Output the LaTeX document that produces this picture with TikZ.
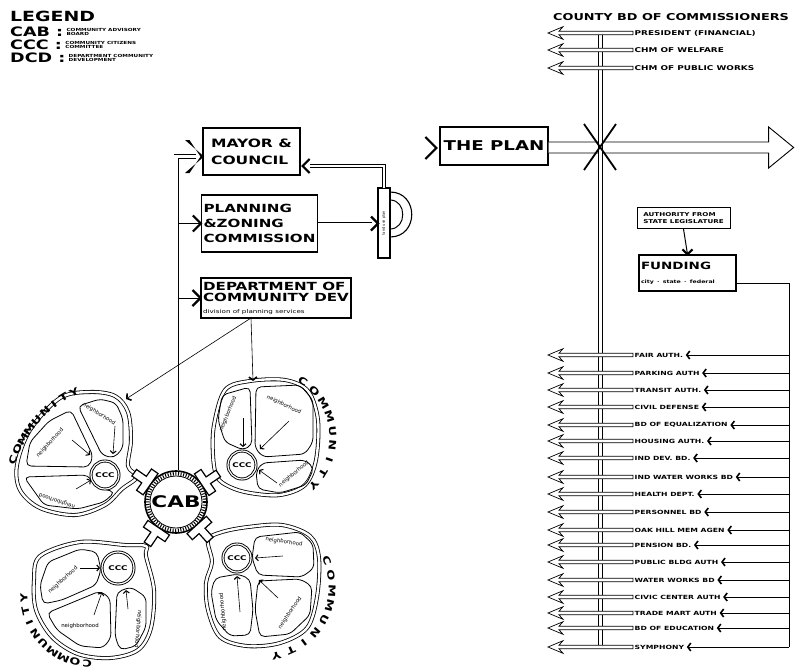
\documentclass[tikz,border=0pt]{standalone}
\usepackage{fontspec}
\newfontfamily\hand[FakeStretch=1.35]{DejaVu Sans}
\newfontfamily\plain{DejaVu Sans}
\usetikzlibrary{arrows.meta}

\newcommand\fsz[2]{\fontsize{#1}{#2}\selectfont}

\tikzset{
  bx/.style={draw, line width=1.3pt, inner sep=2pt, align=left},
  lbl/.style={font=\hand\bfseries\fsz{5.7}{6}, anchor=west, inner sep=0.5pt},
  clbl/.style={font=\hand\bfseries\fsz{6.6}{7}, anchor=west, inner sep=0.5pt},
  legk/.style={font=\hand\bfseries\fsz{13}{13}, anchor=west, inner sep=0pt},
  legv/.style={font=\hand\bfseries\fsz{4.2}{4.6}, anchor=west, inner sep=0pt, align=left},
  nbt/.style={font=\plain\fsz{5.4}{6}, inner sep=0pt},
  comm/.style={font=\hand\bfseries\fsz{9.5}{10}, inner sep=0pt},
  band/.style={draw, fill=white, line width=0.7pt},
  dbl/.style={double, double distance=3.2pt, line width=0.9pt},
  chv/.style={line width=2.2pt, line join=miter},
  barb/.style={-{Straight Barb[length=3pt,width=8pt,line width=1.6pt]}, line width=0.7pt},
  narr/.style={-{Straight Barb[length=2.5pt,width=6pt,line width=1.1pt]}, line width=0.6pt},
  nb/.style={line width=0.8pt, rounded corners=5pt},
  outer/.style={double, double distance=2.4pt, line width=0.8pt},
  ccc/.style={circle, draw, double, double distance=1.2pt, line width=0.9pt, minimum size=28pt, inner sep=0pt, font=\hand\bfseries\fsz{6.5}{7}, fill=white},
  tee/.style={draw, fill=white, line width=1.2pt},
}

\newcommand\chev[3]{\draw[chv] ([shift={(-#3,-#3)}]#1) -- (#1) -- ([shift={(-#3,#3)}]#1);}
\newcommand\chevL[3]{\draw[chv] ([shift={(#3,-#3)}]#1) -- (#1) -- ([shift={(#3,#3)}]#1);}
\newcommand\chevD[3]{\draw[chv] ([shift={(-#3,-#3)}]#1) -- (#1) -- ([shift={(#3,-#3)}]#1);}
\newcommand\teeshape[2]{\draw[tee, shift={#1}, rotate=#2] (0,-13) -- (0,13) -- (-8,13) -- (-8,4) -- (-20,4) -- (-20,-4) -- (-8,-4) -- (-8,-13) -- cycle;}
\newcommand\band[1]{\draw[band] ([shift={(-1,-1.8)}]#1.west) -- ++(-74,0) -- ++(4,-4.5) -- ++(-15,6.3) -- ++(15,6.3) -- ++(-4,-4.5) -- ++(74,0) -- cycle;}
\newcommand\arcword[5]{%
  \foreach \lett [count=\i from 0] in {C,O,M,M,U,N,I,T,Y}{%
    \pgfmathsetmacro\angA{#4+\i*#5}%
    \node[comm, rotate=\angA-90] at ({#1+#3*cos(\angA)},{#2-#3*sin(\angA)}) {\lett};
  }}

\begin{document}
\begin{tikzpicture}[x=1pt,y=-1pt]
\useasboundingbox (0,0) rectangle (795,670);

% ---------------- boxes
\node[bx, minimum width=97pt, minimum height=47pt, font=\hand\bfseries\fsz{11.5}{17}] (mayor) at (251.5,151.5) {MAYOR \&\\COUNCIL};
\node[bx, minimum width=108pt, minimum height=38pt, font=\hand\bfseries\fsz{13.5}{14}] (theplan) at (494,146) {THE PLAN};
\node[bx, minimum width=115pt, minimum height=57pt, font=\hand\bfseries\fsz{11.2}{15}] (pz) at (259.5,223.5) {PLANNING\\\&ZONING\\COMMISSION};
\node[bx, minimum width=148pt, minimum height=40pt, font=\hand\bfseries\fsz{11.2}{11.5}] (dept) at (276,298) {DEPARTMENT OF\\COMMUNITY DEV\\{\hand\mdseries\fsz{5.3}{7}division of planning services}};
\node[bx, line width=1pt, minimum width=93pt, minimum height=21pt, font=\hand\bfseries\fsz{5.3}{7}] (auth) at (683.5,218) {AUTHORITY FROM\\STATE LEGISLATURE};
\node[bx, text width=93pt, minimum height=36pt, font=\hand\bfseries\fsz{10}{14}] (fund) at (687.5,273) {FUNDING\\{\hand\bfseries\fsz{4.6}{6}city · state · federal}};

% ---------------- CAB and spine
\node[circle, draw, line width=1.6pt, minimum size=62pt, inner sep=0, fill=white] (cab) at (176,502) {};
\coordinate (spinetop) at (176,156.5);
\coordinate (mayinline) at (196,156.5);
\draw[line width=0.9pt] (cab.north |- pz.west) -- (pz.west);
\chev{pz.west}{0}{8}
\draw[line width=0.9pt] (cab.north |- dept.west) -- (dept.west);
\chev{dept.west}{0}{8}
\draw[dbl] (cab.north) -- (spinetop) -- (mayinline);
\fill[black] (185,140) -- (204,156.5) -- (185,173) -- (189.5,173) -- (200.5,156.5) -- (189.5,140) -- cycle;
\draw[line width=3.5pt, dash pattern=on 1pt off 1.6pt] (cab.center) circle[radius=28.3];
\draw[line width=0.8pt] (cab.center) circle[radius=26];
\node[font=\hand\bfseries\fsz{16}{16}, inner sep=0] (cabt) at (cab.center) {CAB};

% ---------------- P (land use plan)
\draw[line width=1.1pt] (378,188) rectangle (390,258);
\draw[line width=1.1pt] (390,192) .. controls (419,192) and (419,237) .. (390,237);
\draw[line width=1pt] (390,200) .. controls (407,200) and (407,229) .. (390,229);
\node[rotate=90, font=\plain\fsz{3.6}{4}, inner sep=0] (lup) at (384,223) {land use plan};
\coordinate (ptop) at (384,188);
\coordinate (pw) at (378,223.5);

% connector anchor points
\coordinate (meast) at ([shift={(2,14.5)}]mayor.east);
\coordinate (meline) at ([shift={(9,14.5)}]mayor.east);
\coordinate (pwest) at ([shift={(-3,2)}]theplan.west);
\coordinate (pwline) at ([shift={(-10,2)}]theplan.west);
\coordinate (mout) at ([shift={(0,-3.5)}]mayor.east);

% planning -> P
\draw[double, double distance=2pt, line width=0.6pt] (pz.east) -- ([xshift=-6pt]pw);
\chev{pw}{0}{7}
% P -> mayor (return)
\draw[double, double distance=2.5pt, line width=0.8pt] (ptop) |- (meline);
\chevL{meast}{180}{7}
% mayor -> the plan
\draw[double, double distance=1.6pt, line width=0.5pt] (mout) -- (pwline);
\chev{pwest}{0}{11}

% ---------------- the plan big arrow
\draw[fill=white, line width=0.9pt] ([shift={(0,-4)}]theplan.east) -- ++(220,0) -- ++(0,-15) -- ++(25,20.5) -- ++(-25,20.5) -- ++(0,-15) -- ++(-220,0);

% ---------------- county spine
\coordinate (st) at (600.5,33);
\coordinate (sb) at (600.5,647);
\draw[dbl] (st) -- (sb);
\draw[line width=1.8pt] (584,124) -- (616,170) (616,124) -- (584,170);

% county rows
\foreach \y/\t [count=\i] in {33/PRESIDENT (FINANCIAL), 50/CHM OF WELFARE, 68/CHM OF PUBLIC WORKS}{
  \node[clbl] (c\i) at (634,\y) {\t};
  \band{c\i}
}

% authority -> funding
\draw[line width=1pt] (auth.south) -- (fund.north);
\chevD{fund.north}{-90}{5}
\coordinate (rl) at (789,283);
\draw[line width=0.9pt] ([shift={(0,10)}]fund.east) -- (rl);

% agency rows
\foreach \y/\t [count=\i] in {355/FAIR AUTH., 373/PARKING AUTH, 390/TRANSIT AUTH., 407/CIVIL DEFENSE, 425/BD OF EQUALIZATION, 441/HOUSING AUTH., 458/IND DEV. BD., 477/IND WATER WORKS BD, 494/HEALTH DEPT., 512/PERSONNEL BD, 530/OAK HILL MEM AGEN, 545/PENSION BD., 562/PUBLIC BLDG AUTH, 580/WATER WORKS BD, 597/CIVIC CENTER AUTH, 613/TRADE MART AUTH, 628/BD OF EDUCATION, 647/SYMPHONY}{
  \node[lbl] (r\i) at (634,\y) {\t};
  \band{r\i}
  \draw[barb] (rl |- r\i.east) -- ([shift={(2,0)}]r\i.east);
}
\draw[line width=0.9pt] (rl) -- (rl |- r18.east);

% ---------------- communities
% community 1 (upper left)
\draw[outer] plot[smooth cycle, tension=0.55] coordinates {(60,398) (90,392) (115,396) (128,412) (131,440) (128,466) (137,477) (122,489) (105,505) (75,515) (40,508) (20,490) (17,465) (30,430)};
\draw[nb] (78,406) -- (100,399) -- (116,403) -- (123,419) -- (123,448) -- (114,458) -- (102,455) -- cycle;
\draw[nb] (71,410) -- (93,456) -- (89,467) -- (26,466) -- (30,442) -- (49,421) -- cycle;
\draw[nb] (24,477) -- (88,475) -- (96,487) -- (115,492) -- (104,502) -- (78,509) -- (44,505) -- cycle;
\node[ccc] (ccc1) at (105,475) {CCC};
\node[nbt, rotate=-32] (n11) at (99,414) {neighborhood};
\draw[narr] (115,426) -- (113,454);
\node[nbt, rotate=48] (n12) at (50,443) {neighborhood};
\draw[narr] (72,440) -- (90,455);
\node[nbt, rotate=162] (n13) at (57,501) {neighborhood};
\draw[narr] (76,489) -- (91,480);
\arcword{126}{500}{120}{160.5}{-5.6}

% community 2 (upper right)
\draw[outer] plot[smooth cycle, tension=0.55] coordinates {(225,390) (250,381) (285,380) (308,391) (318,420) (316,460) (305,485) (280,495) (250,493) (230,487) (217,477) (213,455) (214,425)};
\draw[nb] (222,395) -- (250,387) -- (252,445) -- (243,450) -- (225,442) -- (218,420) -- cycle;
\draw[nb] (256,387) -- (300,385) -- (313,400) -- (313,442) -- (305,454) -- (263,457) -- (255,448) -- cycle;
\draw[nb] (262,463) -- (305,460) -- (314,468) -- (306,485) -- (280,493) -- (258,489) -- (256,472) -- cycle;
\node[ccc] (ccc2) at (242,465) {CCC};
\node[nbt, rotate=68] (n21) at (228,414) {neighborhood};
\draw[narr] (243,418) -- (243,447);
\node[nbt, rotate=-25] (n22) at (284,405) {neighborhood};
\draw[narr] (289,421) -- (260,449);
\node[nbt, rotate=40] (n23) at (294,474) {neighborhood};
\draw[narr] (277,483) -- (259,470);
\arcword{265}{438}{68}{56}{-12.5}

% community 3 (lower left)
\draw[outer] plot[smooth cycle, tension=0.55] coordinates {(40,556) (80,542) (125,545) (146,546) (146,556) (154,590) (151,628) (138,650) (110,658) (78,654) (52,637) (36,610) (34,580)};
\draw[nb] (48,562) -- (80,549) -- (97,552) -- (101,570) -- (96,585) -- (62,600) -- (43,604) -- (40,585) -- cycle;
\draw[nb] (47,613) -- (100,591) -- (110,598) -- (111,638) -- (103,648) -- (80,646) -- (57,630) -- cycle;
\draw[nb] (117,592) -- (131,587) -- (146,597) -- (146,627) -- (136,646) -- (120,650) -- (115,636) -- cycle;
\node[ccc, minimum size=32pt] (ccc3) at (118,568) {CCC};
\node[nbt, rotate=42] (n31) at (63,580) {neighborhood};
\draw[narr] (80,568) -- (100,568);
\node[nbt] (n32) at (80,626) {neighborhood};
\draw[narr] (94,615) -- (102,592);
\node[nbt, rotate=-95] (n33) at (138,629) {neighborhood};
\draw[narr] (128,609) -- (126,590);
\arcword{92}{596}{68}{-94}{-10.5}

% community 4 (lower right)
\draw[outer] plot[smooth cycle, tension=0.55] coordinates {(208,540) (222,532) (248,527) (282,525) (310,536) (319,558) (317,597) (307,628) (280,643) (247,646) (220,637) (208,610) (206,583) (212,562)};
\draw[nb] (255,537) -- (300,532) -- (313,544) -- (314,568) -- (302,577) -- (258,575) -- (252,558) -- cycle;
\draw[nb] (215,578) -- (238,574) -- (250,579) -- (253,610) -- (250,635) -- (230,636) -- (216,620) -- (211,592) -- cycle;
\draw[nb] (258,581) -- (300,579) -- (312,586) -- (310,615) -- (290,634) -- (260,637) -- (255,610) -- cycle;
\node[ccc] (ccc4) at (237,558) {CCC};
\node[nbt, rotate=-8] (n41) at (284,542) {neighborhood};
\draw[narr] (283,556) -- (255,558);
\node[nbt, rotate=95] (n42) at (223,612) {neighborhood};
\draw[narr] (240,612) -- (237,576);
\node[nbt, rotate=56] (n43) at (290,613) {neighborhood};
\draw[narr] (278,598) -- (259,580);
\arcword{262}{587}{70}{22}{-12.5}

% ---------------- T arrows into CAB
\teeshape{(150.6,484.2)}{-35}
\teeshape{(201.7,484.7)}{-146}
\teeshape{(158.7,527.7)}{56}
\teeshape{(196.7,525)}{132}

% ---------------- dept -> communities
\coordinate (d1) at (251,318);
\coordinate (t1) at (126,399);
\coordinate (t2) at (253,381);
\draw[barb, line width=0.6pt] (d1) -- (t1);
\draw[barb, line width=0.6pt] (d1) -- (t2);

% ---------------- legend
\node[legk, font=\hand\bfseries\fsz{14}{14}] (leg) at (10,16) {LEGEND};
\node[legk] (k1) at (10,32) {CAB :};
\node[legk] (k2) at (10,45) {CCC :};
\node[legk] (k3) at (10,58) {DCD :};
\node[legv] (v1) at ([xshift=3pt]k1.east) {COMMUNITY ADVISORY\\BOARD};
\node[legv] (v2) at ([xshift=3pt]k2.east) {COMMUNITY CITIZENS\\COMMITTEE};
\node[legv] (v3) at ([xshift=3pt]k3.east) {DEPARTMENT COMMUNITY\\DEVELOPMENT};

% ---------------- county board title
\node[anchor=west, inner sep=0, font=\hand\bfseries\fsz{9.5}{10}] (cty) at (553,17) {COUNTY BD OF COMMISSIONERS};
\end{tikzpicture}
\end{document}
